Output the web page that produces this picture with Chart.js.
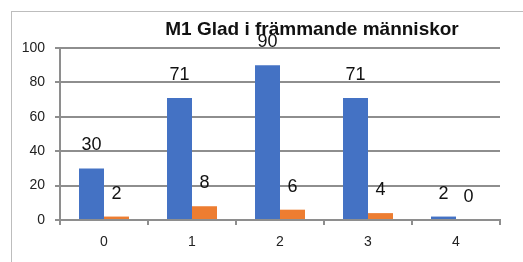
<!DOCTYPE html>
<html>
<head>
<meta charset="utf-8">
<script src="https://cdn.jsdelivr.net/npm/chart.js@4/dist/chart.umd.min.js"></script>
<style>
  html, body { margin: 0; padding: 0; background: #fff; overflow: hidden; }
  #wrap { position: relative; width: 523px; height: 262px; }
  #frame {
    position: absolute; left: 11px; top: 11px; width: 600px; height: 300px;
    border-left: 1px solid #bdbdbd; border-top: 1px solid #bdbdbd;
  }
  canvas { position: absolute; left: 0; top: 0; }
</style>
</head>
<body>
<div id="wrap">
  <div id="frame"></div>
  <canvas id="chart" width="523" height="262"></canvas>
</div>
<script>
// Data
const chartTitle = "M1 Glad i främmande människor";
const categories = ["0", "1", "2", "3", "4"];
const series1 = [30, 71, 90, 71, 2];
const series2 = [2, 8, 6, 4, 0];
const yTicks = [0, 20, 40, 60, 80, 100];

const FONT = "'Liberation Sans', Arial, sans-serif";
const GRID = "#8e8e8e";

// Värden ovanför staplarna
const valueLabels = {
  id: "valueLabels",
  afterDatasetsDraw(chart) {
    const ctx = chart.ctx;
    ctx.save();
    ctx.font = "18px " + FONT;
    ctx.fillStyle = "#111";
    ctx.textAlign = "center";
    ctx.textBaseline = "middle";
    chart.data.datasets.forEach((ds, i) => {
      chart.getDatasetMeta(i).data.forEach((bar, j) => {
        ctx.fillText(String(ds.data[j]), bar.x, bar.y - 23);
      });
    });
    ctx.restore();
  }
};

// Rubrik (något förskjuten åt höger, som i originalet)
const offsetTitle = {
  id: "offsetTitle",
  afterDraw(chart) {
    const ctx = chart.ctx;
    const a = chart.chartArea;
    ctx.save();
    ctx.font = "bold 19px " + FONT;
    ctx.fillStyle = "#111";
    ctx.textAlign = "center";
    ctx.textBaseline = "middle";
    ctx.fillText(chartTitle, (a.left + a.right) / 2 + 32, 30);
    ctx.restore();
  }
};

new Chart(document.getElementById("chart"), {
  type: "bar",
  data: {
    labels: categories,
    datasets: [
      { label: "Serie 1", data: series1, backgroundColor: "#4472C4" },
      { label: "Serie 2", data: series2, backgroundColor: "#ED7D31" }
    ]
  },
  options: {
    responsive: false,
    animation: false,
    events: [],
    layout: { padding: { left: 0, right: 23, top: 48, bottom: 0 } },
    datasets: { bar: { barPercentage: 1, categoryPercentage: 0.568 } },
    plugins: {
      legend: { display: false },
      title: { display: false },
      tooltip: { enabled: false }
    },
    scales: {
      x: {
        offset: true,
        grid: { offset: true, drawOnChartArea: false, drawTicks: true, tickLength: 5, color: GRID, lineWidth: 2 },
        border: { display: true, color: GRID, width: 2 },
        ticks: { color: "#222", font: { family: FONT, size: 14 }, padding: 9 },
        afterFit(scale) { scale.height = 42; }
      },
      y: {
        min: 0,
        max: 100,
        afterBuildTicks(scale) { scale.ticks = yTicks.map(v => ({ value: v })); },
        grid: { color: GRID, lineWidth: 2, tickLength: 5 },
        border: { display: true, color: GRID, width: 2 },
        ticks: { color: "#222", font: { family: FONT, size: 14 }, padding: 10 },
        afterFit(scale) { scale.width = 60; }
      }
    }
  },
  plugins: [valueLabels, offsetTitle]
});
</script>
</body>
</html>
